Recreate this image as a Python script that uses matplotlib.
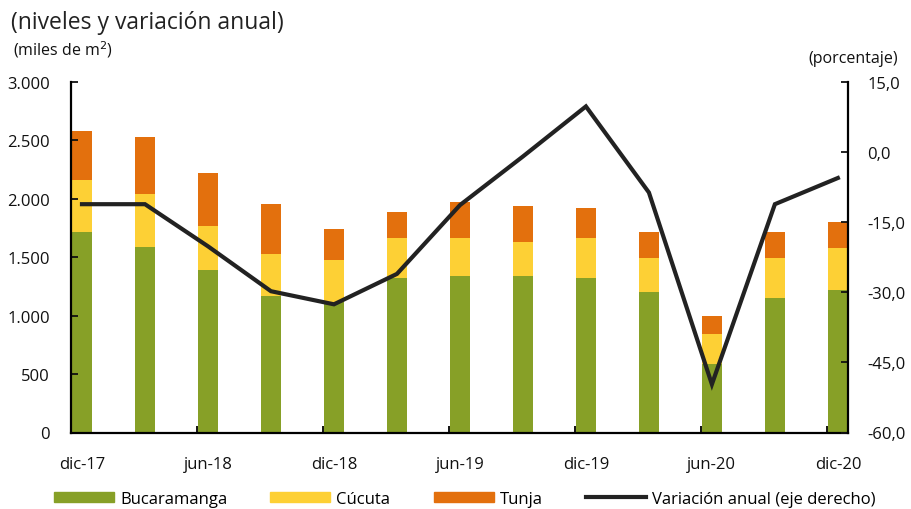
import matplotlib
matplotlib.use("Agg")
import matplotlib.pyplot as plt
from matplotlib.ticker import FuncFormatter, FixedLocator
from matplotlib.patches import Patch
from matplotlib.lines import Line2D
import numpy as np

plt.rcParams['font.family'] = ['Open Sans', 'DejaVu Sans']

periods = ["dic-17", "mar-18", "jun-18", "sep-18", "dic-18", "mar-19", "jun-19",
           "sep-19", "dic-19", "mar-20", "jun-20", "sep-20", "dic-20"]
bucaramanga = [1711, 1588, 1386, 1164, 1112, 1318, 1335, 1335, 1318, 1200, 584, 1149, 1218]
cucuta = [448, 448, 379, 362, 362, 342, 328, 293, 345, 291, 257, 342, 359]
tunja = [422, 494, 456, 425, 268, 222, 305, 306, 254, 220, 154, 220, 220]
variacion = [-11.2, -11.2, -20.2, -29.8, -32.6, -26.1, -11.4, -1.0, 9.7, -8.7, -49.7, -11.2, -5.6]
tick_labels = ["dic-17", "jun-18", "dic-18", "jun-19", "dic-19", "jun-20", "dic-20"]

c_green = "#87A027"
c_yellow = "#FDD035"
c_orange = "#E3700D"
c_line = "#222222"

fig = plt.figure(figsize=(9.11, 5.10), dpi=100)
ax = fig.add_axes([0.0779, 0.150, 0.8529, 0.688])
x = np.arange(len(periods))
w = 0.31
b = np.array(bucaramanga)
c = np.array(cucuta)
t = np.array(tunja)
ax.bar(x, b, w, color=c_green, edgecolor='none')
ax.bar(x, c, w, bottom=b, color=c_yellow, edgecolor='none')
ax.bar(x, t, w, bottom=b + c, color=c_orange, edgecolor='none')

ax.set_ylim(0, 3000)
ax.set_xlim(-0.175, 12.16)
ax.set_yticks(np.arange(0, 3001, 500))
ax.yaxis.set_major_formatter(FuncFormatter(lambda v, p: f"{int(v):,}".replace(",", ".")))
ax.set_xticks(x[::2])
ax.set_xticklabels(tick_labels)
ax.xaxis.set_minor_locator(FixedLocator([2 * k - 0.17 for k in range(7)]))
ax.tick_params(axis='x', which='major', length=0, pad=17, labelsize=12, colors='#111111')
ax.tick_params(axis='x', which='minor', direction='in', length=5, width=1.3, color='black')
ax.tick_params(axis='y', direction='in', length=5, width=1.3, labelsize=12, pad=15, colors='#111111')
for s in ['top', 'right']:
    ax.spines[s].set_visible(False)
for s in ['left', 'bottom']:
    ax.spines[s].set_linewidth(1.6)

ax2 = ax.twinx()
ax2.plot(x, variacion, color=c_line, lw=3.0, solid_joinstyle='miter')
ax2.set_ylim(-60, 15)
ax2.set_yticks(np.arange(-60, 16, 15))
ax2.yaxis.set_major_formatter(FuncFormatter(lambda v, p: f"{v:.1f}".replace(".", ",")))
ax2.tick_params(axis='y', direction='in', length=5, width=1.3, labelsize=12, pad=14, colors='#111111')
for s in ['top', 'left', 'bottom']:
    ax2.spines[s].set_visible(False)
ax2.spines['right'].set_linewidth(1.6)

fig.text(0.012, 0.955, "(niveles y variación anual)", fontsize=16.5, ha='left', va='center', color='#222222')
fig.text(0.014, 0.903, "(miles de m$^2$)", fontsize=11.5, ha='left', va='center', color='#111111')
fig.text(0.986, 0.884, "(porcentaje)", fontsize=11.5, ha='right', va='center', color='#111111')

handles = [Patch(color=c_green, label="Bucaramanga"),
           Patch(color=c_yellow, label="Cúcuta"),
           Patch(color=c_orange, label="Tunja"),
           Line2D([0], [0], color=c_line, lw=3, label="Variación anual (eje derecho)")]
fig.legend(handles=handles, loc='center', bbox_to_anchor=(0.51, 0.02), ncol=4, frameon=False,
           fontsize=12, handlelength=3.6, handleheight=0.6, columnspacing=2.6, handletextpad=0.35)

fig.savefig("out.png", dpi=100)
